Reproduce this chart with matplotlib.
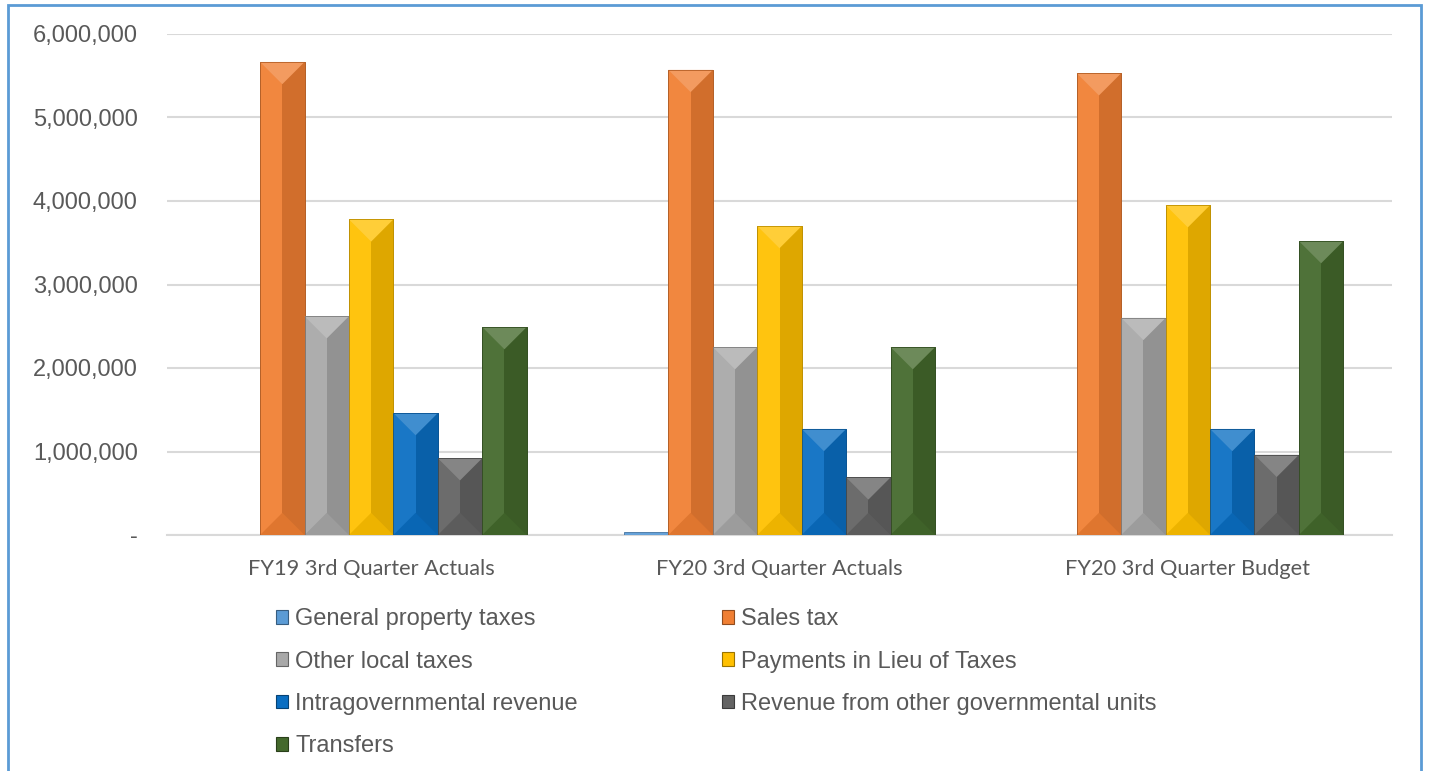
import numpy as np
import matplotlib
matplotlib.use('Agg')
import matplotlib.pyplot as plt
from matplotlib.patches import Rectangle, Polygon
from matplotlib.ticker import FuncFormatter
from matplotlib.colors import to_rgb

categories = ['FY19 3rd Quarter Actuals', 'FY20 3rd Quarter Actuals', 'FY20 3rd Quarter Budget']
series_names = ['General property taxes', 'Sales tax', 'Other local taxes',
                'Payments in Lieu of Taxes', 'Intragovernmental revenue',
                'Revenue from other governmental units', 'Transfers']
general_property = [5000, 40000, 5000]
sales_tax = [5665000, 5570000, 5530000]
other_local = [2620000, 2250000, 2600000]
pilot = [3780000, 3700000, 3950000]
intragov = [1460000, 1270000, 1270000]
other_gov_units = [920000, 690000, 960000]
transfers = [2490000, 2250000, 3520000]
series_values = [general_property, sales_tax, other_local, pilot,
                 intragov, other_gov_units, transfers]
colors = ['#5B9BD5', '#F07F33', '#A8A8A8', '#FFC000', '#0A6EC2', '#636363', '#44692C']

W, H = 1430, 771
fig = plt.figure(figsize=(W / 100, H / 100), dpi=100)
ax = fig.add_axes([167 / W, 1 - 535 / H, (1392 - 167) / W, (535 - 34) / H])

n = len(series_names)
gap = 2.19
bw = 1.0 / (n + gap)
x = np.arange(len(categories))
ymax = 6000000
ax.set_ylim(0, ymax)
ax.set_xlim(-0.5, len(categories) - 0.5)

# bevel depth in data units (half bar width in pixels -> y)
ax_h_px = (535 - 34)
ax_w_px = (1392 - 167)
bw_px = bw * ax_w_px / len(categories)
depth = (bw_px / 2) * ymax / ax_h_px


def shade(c, f):
    r, g, b = to_rgb(c)
    if f >= 0:
        return (r + (1 - r) * f, g + (1 - g) * f, b + (1 - b) * f)
    return (r * (1 + f), g * (1 + f), b * (1 + f))


handles = []
for j, (name, vals, col) in enumerate(zip(series_names, series_values, colors)):
    xs = x + (j - (n - 1) / 2) * bw
    bars = ax.bar(xs, vals, width=bw, color=shade(col, 0.06), edgecolor=shade(col, -0.25),
                  linewidth=0.6, zorder=3, label=name)
    handles.append(Rectangle((0, 0), 1, 1, facecolor=col, edgecolor=shade(col, -0.4), linewidth=0.8))
    for b in bars:
        x0 = b.get_x()
        x1 = x0 + b.get_width()
        xc = (x0 + x1) / 2
        h = b.get_height()
        if h < 2 * depth:
            continue
        ax.add_patch(Rectangle((xc, 0), x1 - xc, h, facecolor=shade(col, -0.13),
                               linewidth=0, zorder=3.1))
        ax.add_patch(Polygon([(x0, h), (x1, h), (xc, h - depth)], closed=True,
                             facecolor=shade(col, 0.22), linewidth=0, zorder=3.2))
        ax.add_patch(Polygon([(x0, 0), (x1, 0), (xc, depth)], closed=True,
                             facecolor=shade(col, -0.07), linewidth=0, zorder=3.2))
        ax.add_patch(Rectangle((x0, 0), b.get_width(), h, facecolor='none',
                               edgecolor=shade(col, -0.25), linewidth=0.6, zorder=3.3))

ax.set_yticks(np.arange(0, ymax + 1, 1000000))
ax.yaxis.set_major_formatter(FuncFormatter(lambda v, p: '-' if v == 0 else f'{int(v):,}'))
ax.grid(axis='y', color='#D9D9D9', linewidth=1.5, zorder=0)
ax.set_axisbelow(True)
for s in ['top', 'right', 'left']:
    ax.spines[s].set_visible(False)
ax.spines['bottom'].set_color('#D9D9D9')
ax.spines['bottom'].set_linewidth(1.5)
ax.tick_params(axis='y', length=0, pad=21, labelsize=17, labelcolor='#595959')
ax.tick_params(axis='x', length=0, pad=17, labelsize=15.7, labelcolor='#595959')
for t in ax.get_yticklabels():
    t.set_fontfamily('Liberation Sans')
ax.set_xticks(x)
ax.set_xticklabels(categories, fontfamily='Lato')

# legend: column-major order to reproduce row-wise layout
order = [0, 2, 4, 6, 1, 3, 5]
leg = fig.legend([handles[i] for i in order], [series_names[i] for i in order],
                 loc='upper left', bbox_to_anchor=(255 / W, 1 - 587 / H), ncol=2,
                 frameon=False, handlelength=0.5, handleheight=0.5, handletextpad=0.3,
                 columnspacing=6.1, labelspacing=0.86,
                 prop={'family': 'Liberation Sans', 'size': 17})
for t in leg.get_texts():
    t.set_color('#595959')

# outer chart border
fig.patches.append(Rectangle((8 / W, -0.05), (1421 - 8) / W, 1.05 - 5 / H,
                             transform=fig.transFigure, facecolor='none',
                             edgecolor='#5B9BD5', linewidth=2))

fig.savefig('out.png', dpi=100)
